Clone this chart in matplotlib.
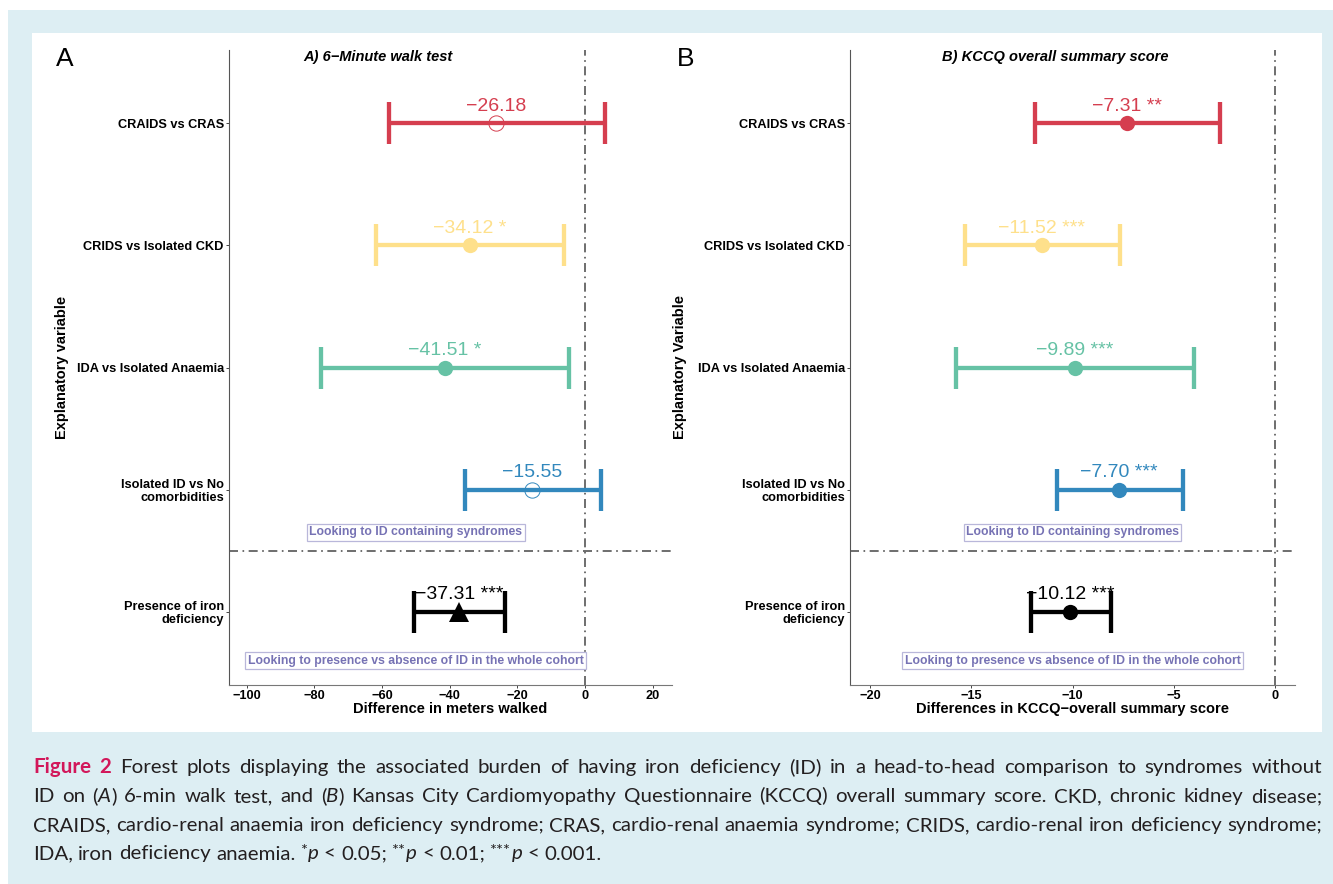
import matplotlib
matplotlib.use('Agg')
import matplotlib.pyplot as plt
from matplotlib.patches import Rectangle

plt.rcParams["font.family"] = "Liberation Sans"

W, H = 1333, 884  # 输出像素尺寸

# 比较组（从上到下）
comparisons = ['CRAIDS vs CRAS', 'CRIDS vs Isolated CKD', 'IDA vs Isolated Anaemia',
               'Isolated ID vs No\ncomorbidities', 'Presence of iron\ndeficiency']
row_colors = ['#D53E4F', '#FEE08B', '#66C2A5', '#3288BD', '#000000']

# A) 6分钟步行试验
walk_est = [-26.18, -34.12, -41.51, -15.55, -37.31]
walk_lo = [-57.9, -61.7, -78.0, -35.6, -50.5]
walk_hi = [5.8, -6.2, -4.7, 4.7, -23.6]
walk_stars = ['', '*', '*', '', '***']
walk_markers = ['o', 'o', 'o', 'o', '^']
walk_ticks = [-100, -80, -60, -40, -20, 0, 20]

# B) KCCQ 总分
kccq_est = [-7.31, -11.52, -9.89, -7.70, -10.12]
kccq_lo = [-11.84, -15.33, -15.76, -10.78, -12.07]
kccq_hi = [-2.70, -7.65, -4.01, -4.54, -8.10]
kccq_stars = ['**', '***', '***', '***', '***']
kccq_markers = ['o', 'o', 'o', 'o', 'o']
kccq_ticks = [-20, -15, -10, -5, 0]

note_texts = ['Looking to ID containing syndromes',
              'Looking to presence vs absence of ID in the whole cohort']

# 图注（分行、分段样式）
caption_lines = [
    [("Figure 2", "fig"),
     (" Forest plots displaying the associated burden of having iron deficiency (ID) in a "
      "head-to-head comparison to syndromes without", "rm")],
    [("ID on (", "rm"), ("A", "it"), (") 6-min walk test, and (", "rm"), ("B", "it"),
     (") Kansas City Cardiomyopathy Questionnaire (KCCQ) overall summary score. "
      "CKD, chronic kidney disease;", "rm")],
    [("CRAIDS, cardio-renal anaemia iron deficiency syndrome; CRAS, cardio-renal anaemia "
      "syndrome; CRIDS, cardio-renal iron deficiency syndrome;", "rm")],
    [("IDA, iron deficiency anaemia. ", "rm"), ("*", "sup"), ("p", "it"), (" < 0.05; ", "rm"),
     ("**", "sup"), ("p", "it"), (" < 0.01; ", "rm"), ("***", "sup"), ("p", "it"),
     (" < 0.001.", "rm")],
]


def fx(x):
    return x / W


def fy(y):
    return 1 - y / H


def px_rect(l, t, r, b):
    return [l / W, 1 - b / H, (r - l) / W, (b - t) / H]


def forest(ax, est, lo, hi, stars, markers, xlim, xticks, note_x):
    ys = [5, 4, 3, 2, 1]
    ax.axvline(0, color='#555555', lw=1.2, ls=(0, (5.4, 2.7, 1, 2.7)), zorder=2)
    ax.axhline(1.5, color='#555555', lw=1.2, ls=(0, (5.4, 2.7, 1, 2.7)), zorder=2)

    for i, y in enumerate(ys):
        c = row_colors[i]
        ax.errorbar(est[i], y, xerr=[[est[i] - lo[i]], [hi[i] - est[i]]], fmt='none',
                    ecolor=c, elinewidth=3.1, capsize=15, capthick=3.1, zorder=3)
        filled = stars[i] != ''
        ms = 14 if markers[i] == '^' else 11
        ax.plot(est[i], y, marker=markers[i], ms=ms, ls='none',
                mfc=c if filled else 'none', mec=c, mew=0 if filled else 0.7, zorder=4)
        label = f"{est[i]:.2f}".replace('-', '\u2212')
        if stars[i]:
            label += ' ' + stars[i]
        ax.annotate(label, (est[i], y), xytext=(0, 6), textcoords='offset points',
                    ha='center', va='bottom', color=c, fontsize=14, zorder=5)

    # 注释框
    for txt, ny in zip(note_texts, [1.65, 0.6]):
        ax.text(note_x, ny, txt, ha='center', va='center', fontsize=8.8,
                fontweight='bold', color='#7672B4', zorder=5,
                bbox=dict(boxstyle='square,pad=0.2', fc='white', ec='#B9B7DA', lw=0.9))

    ax.set_xlim(*xlim)
    ax.set_ylim(0.4, 5.6)
    ax.set_xticks(xticks)
    ax.set_yticks(ys)
    ax.set_yticklabels(comparisons)
    for lbl in ax.get_yticklabels():
        lbl.set_linespacing(1.05)
    for lbl in ax.get_xticklabels() + ax.get_yticklabels():
        lbl.set_fontweight('bold')
        lbl.set_fontsize(9.2)
    ax.tick_params(axis='both', length=2.2, width=0.7, color='#444444', pad=1.5)
    ax.spines['top'].set_visible(False)
    ax.spines['right'].set_visible(False)
    ax.spines['left'].set_color('#555555')
    ax.spines['bottom'].set_color('#777777')
    ax.set_facecolor('white')


def draw_caption(fig, lines, x0, x1, baselines, base_size=15.5):
    renderer = fig.canvas.get_renderer()
    text_color = '#231F20'

    def style_kw(st, size):
        kw = dict(family='Lato', color=text_color, fontsize=size)
        if st == 'fig':
            kw.update(weight='bold', color='#D2175A')
        elif st == 'it':
            kw.update(style='italic')
        elif st == 'sup':
            kw.update(fontsize=size * 0.8)
        return kw

    # 拆成单词，每个单词由若干样式片段组成
    all_words = []
    for runs in lines:
        words, cur = [], []
        for text, st in runs:
            parts = text.split(' ')
            for k, p in enumerate(parts):
                if k > 0 and cur:
                    words.append(cur)
                    cur = []
                if p:
                    cur.append((p, st))
        if cur:
            words.append(cur)
        all_words.append(words)

    def measure(s, st, size):
        t = fig.text(0, 0, s, **style_kw(st, size))
        w = t.get_window_extent(renderer).width
        t.remove()
        return w

    def natural(words, size):
        sp = measure('x x', 'rm', size) - measure('xx', 'rm', size)
        tot = sum(measure(p, st, size) for w in words for p, st in w)
        return tot + sp * (len(words) - 1)

    # 按最长行调整字号
    test = 10.0
    widest = max(natural(w, test) for w in all_words[:-1])
    size = min(base_size, test * (x1 - x0) / widest * 0.995)
    space = measure('x x', 'rm', size) - measure('xx', 'rm', size)

    for li, words in enumerate(all_words):
        widths = [[measure(p, st, size) for p, st in w] for w in words]
        total = sum(sum(ws) for ws in widths)
        if li < len(all_words) - 1 and len(words) > 1:
            gap = (x1 - x0 - total) / (len(words) - 1)
        else:
            gap = space
        x = x0
        for w, ws in zip(words, widths):
            for (p, st), pw in zip(w, ws):
                y = baselines[li]
                if st == 'sup':
                    y -= size * 100 / 72 * 0.2
                fig.text(fx(x), fy(y), p, ha='left', va='baseline', **style_kw(st, size))
                x += pw
            x += gap


fig = plt.figure(figsize=(W / 100, H / 100), dpi=100)
fig.patch.set_facecolor('white')

# 背景：浅蓝底 + 白色面板
fig.add_artist(Rectangle((fx(8), 0), 1, fy(10), transform=fig.transFigure,
                         fc='#DDEEF3', ec='none', zorder=-10))
fig.add_artist(Rectangle((fx(32), fy(732)), (1322 - 32) / W, (732 - 33) / H,
                         transform=fig.transFigure, fc='white', ec='none', zorder=-9))

ax_a = fig.add_axes(px_rect(229, 50, 672, 685))
ax_b = fig.add_axes(px_rect(850, 50, 1295, 685))

forest(ax_a, walk_est, walk_lo, walk_hi, walk_stars, walk_markers,
       (-105.2, 25.7), walk_ticks, -50)
forest(ax_b, kccq_est, kccq_lo, kccq_hi, kccq_stars, kccq_markers,
       (-21.0, 1.0), kccq_ticks, -10)

# 面板字母与标题
fig.text(fx(65), fy(66), 'A', fontsize=19, ha='center', va='baseline')
fig.text(fx(686), fy(66), 'B', fontsize=19, ha='center', va='baseline')
fig.text(fx(378), fy(61), 'A) 6\u2212Minute walk test', fontsize=10.5,
         fontweight='bold', style='italic', ha='center', va='baseline')
fig.text(fx(1055.5), fy(61), 'B) KCCQ overall summary score', fontsize=10.5,
         fontweight='bold', style='italic', ha='center', va='baseline')

# 坐标轴标题
fig.text(fx(62), fy(367), 'Explanatory variable', rotation=90, fontsize=10.5,
         fontweight='bold', ha='center', va='center')
fig.text(fx(680), fy(367), 'Explanatory Variable', rotation=90, fontsize=10.5,
         fontweight='bold', ha='center', va='center')
fig.text(fx(450.5), fy(713), 'Difference in meters walked', fontsize=10.5,
         fontweight='bold', ha='center', va='baseline')
fig.text(fx(1072.5), fy(713), 'Differences in KCCQ\u2212overall summary score', fontsize=10.5,
         fontweight='bold', ha='center', va='baseline')

draw_caption(fig, caption_lines, 33, 1322, [773, 802, 831, 859.5])

fig.savefig('out.png', dpi=100, facecolor=fig.get_facecolor())
